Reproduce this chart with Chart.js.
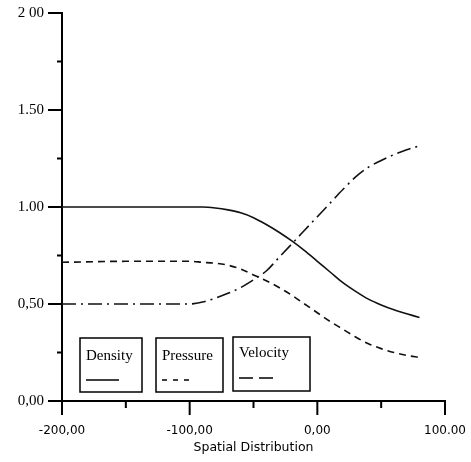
<!DOCTYPE html>
<html>
<head>
<meta charset="utf-8">
<script src="https://cdn.jsdelivr.net/npm/chart.js@4/dist/chart.umd.min.js"></script>
<style>
  html, body { margin: 0; padding: 0; background: #fff; }
  #wrap { width: 471px; height: 462px; position: relative; }
</style>
</head>
<body>
<div id="wrap"><canvas id="chart"></canvas></div>
<script>
// positions along the x axis
const xPositions = [-200, -150, -100, -90, -80, -70, -60, -50, -40, -30, -20, -10, 0, 10, 20, 30, 40, 50, 60, 70, 80];

const density  = [1.0, 1.0, 1.0, 1.0, 0.995, 0.985, 0.97, 0.945, 0.91, 0.87, 0.825, 0.775, 0.72, 0.665, 0.61, 0.565, 0.525, 0.495, 0.47, 0.45, 0.43];
const pressure = [0.715, 0.72, 0.72, 0.715, 0.71, 0.70, 0.68, 0.65, 0.62, 0.585, 0.545, 0.50, 0.455, 0.41, 0.37, 0.33, 0.295, 0.27, 0.25, 0.235, 0.225];
const velocity = [0.5, 0.5, 0.5, 0.51, 0.53, 0.555, 0.585, 0.625, 0.67, 0.74, 0.81, 0.88, 0.95, 1.02, 1.09, 1.155, 1.205, 1.24, 1.27, 1.295, 1.315];

const seriesNames = ["Density", "Pressure", "Velocity"];

// tick labels as printed on the original
const xTickValues = [-200, -100, 0, 100];
const xTickLabels = ["-200,00", "-100,00", "0,00", "100.00"];
const yTickValues = [0, 0.5, 1, 1.5, 2];
const yTickLabels = ["0,00", "0,50", "1.00", "1.50", "2 00"];

const toPoints = (ys) => xPositions.map((x, i) => ({ x: x, y: ys[i] }));

// tick marks: long for labelled ticks, short for the in-between ones
const tickMarks = {
  id: "tickMarks",
  afterDraw(chart) {
    const ctx = chart.ctx;
    const xs = chart.scales.x;
    const ys = chart.scales.y;
    ctx.save();
    ctx.strokeStyle = "#000";
    ctx.lineWidth = 2;
    ys.ticks.forEach((t) => {
      const py = ys.getPixelForValue(t.value);
      const len = yTickValues.includes(t.value) ? 14 : 5;
      ctx.beginPath();
      ctx.moveTo(ys.right - len, py);
      ctx.lineTo(ys.right, py);
      ctx.stroke();
    });
    xs.ticks.forEach((t) => {
      const px = xs.getPixelForValue(t.value);
      const len = xTickValues.includes(t.value) ? 14 : 7;
      ctx.beginPath();
      ctx.moveTo(px, xs.top);
      ctx.lineTo(px, xs.top + len);
      ctx.stroke();
    });
    ctx.restore();
  },
};

// boxed legend like the original figure
const boxLegend = {
  id: "boxLegend",
  afterDraw(chart, args, opts) {
    const ctx = chart.ctx;
    ctx.save();
    chart.data.datasets.forEach((ds, i) => {
      const b = opts.boxes[i];
      ctx.strokeStyle = "#000";
      ctx.lineWidth = 1.5;
      ctx.setLineDash([]);
      ctx.strokeRect(b.x, b.y, b.w, b.h);
      ctx.fillStyle = "#000";
      ctx.font = "15px 'Liberation Serif'";
      ctx.textBaseline = "alphabetic";
      ctx.fillText(ds.label, b.x + 6, b.y + b.textY);
      ctx.lineWidth = 1.5;
      ctx.setLineDash(opts.sampleDash[i]);
      ctx.beginPath();
      ctx.moveTo(b.x + 6, b.y + b.lineY);
      ctx.lineTo(b.x + 6 + b.lineW, b.y + b.lineY);
      ctx.stroke();
    });
    ctx.restore();
  },
};

const lineStyle = (label, data, dash) => ({
  label: label,
  data: toPoints(data),
  borderColor: "#111",
  borderWidth: 1.6,
  borderDash: dash,
  pointRadius: 0,
  cubicInterpolationMode: "monotone",
  fill: false,
});

new Chart(document.getElementById("chart"), {
  type: "line",
  data: {
    datasets: [
      lineStyle(seriesNames[0], density, []),
      lineStyle(seriesNames[1], pressure, [7, 5]),
      lineStyle(seriesNames[2], velocity, [14, 5, 2, 5]),
    ],
  },
  options: {
    responsive: true,
    maintainAspectRatio: false,
    animation: false,
    layout: { padding: { top: 12, right: 26, left: 0, bottom: 0 } },
    plugins: {
      legend: { display: false },
      tooltip: { enabled: false },
      boxLegend: {
        boxes: [
          { x: 80, y: 338, w: 62, h: 54, textY: 22, lineY: 42, lineW: 33 },
          { x: 156, y: 338, w: 67, h: 54, textY: 22, lineY: 42, lineW: 33 },
          { x: 233, y: 337, w: 77, h: 54, textY: 20, lineY: 41, lineW: 34 },
        ],
        sampleDash: [[], [5, 6], [14, 6]],
      },
    },
    scales: {
      x: {
        type: "linear",
        min: -200,
        max: 100,
        afterFit: (s) => {
          s.height = 61;
          s.paddingLeft = 0;
          s.paddingRight = 0;
        },
        ticks: {
          stepSize: 50,
          padding: 9,
          color: "#000",
          font: { family: "'DejaVu Sans'", size: 12 },
          callback: (v) => {
            const k = xTickValues.indexOf(v);
            return k >= 0 ? xTickLabels[k] : "";
          },
        },
        grid: { display: true, drawOnChartArea: false, color: "transparent", tickLength: 14 },
        border: { display: true, color: "#000", width: 2 },
        title: {
          display: true,
          text: "Spatial Distribution",
          color: "#000",
          font: { family: "'DejaVu Sans'", size: 12.5 },
          padding: { top: 0, bottom: 7 },
        },
      },
      y: {
        min: 0,
        max: 2,
        afterFit: (s) => { s.width = 62; },
        ticks: {
          stepSize: 0.25,
          padding: 4,
          color: "#000",
          font: { family: "'Liberation Serif'", size: 15 },
          callback: (v) => {
            const k = yTickValues.indexOf(v);
            return k >= 0 ? yTickLabels[k] : "";
          },
        },
        grid: { display: true, drawOnChartArea: false, color: "transparent", tickLength: 14 },
        border: { display: true, color: "#000", width: 2 },
      },
    },
  },
  plugins: [tickMarks, boxLegend],
});
</script>
</body>
</html>
